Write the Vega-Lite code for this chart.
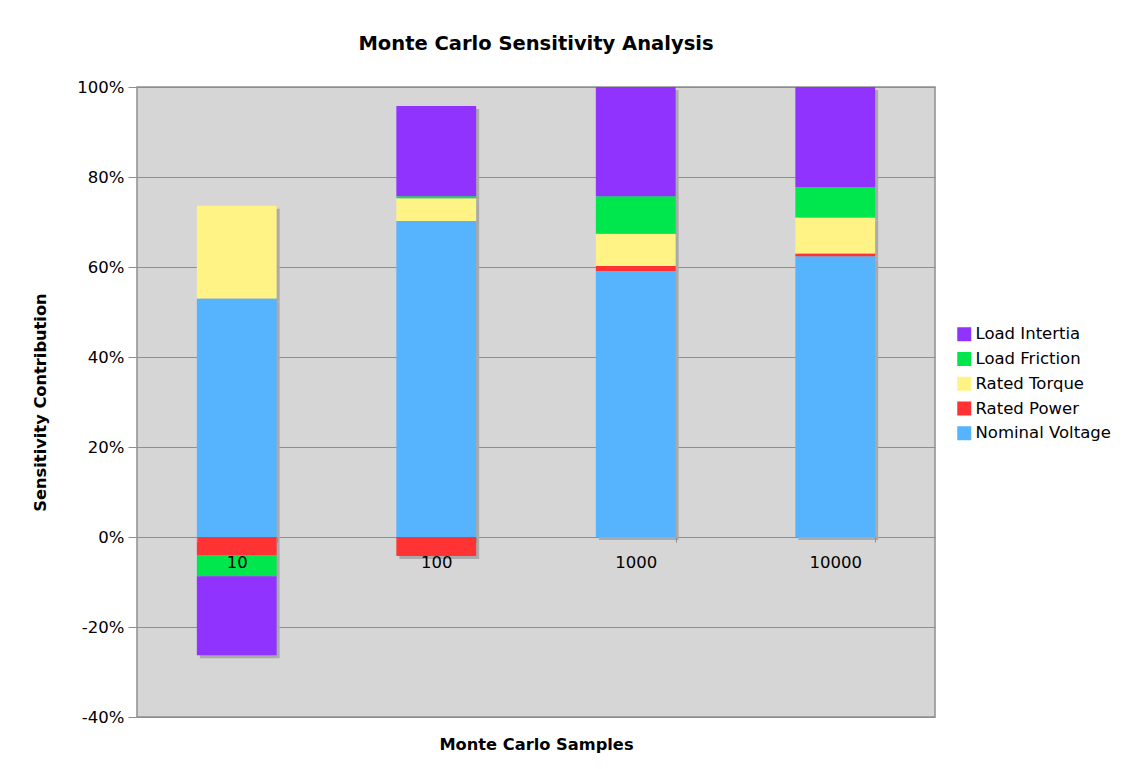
{
  "$schema": "https://vega.github.io/schema/vega-lite/v6.json",
  "width": 798,
  "height": 630,
  "padding": {"left": 32, "top": 33, "right": 5, "bottom": 5},
  "background": "white",
  "title": {"text": "Monte Carlo Sensitivity Analysis", "font": "DejaVu Sans", "fontSize": 19.5, "fontWeight": "bold", "color": "black", "anchor": "middle", "offset": 25},
  "config": {
    "font": "DejaVu Sans",
    "view": {"fill": "#d6d6d6", "stroke": "#8e8e8e", "strokeWidth": 1.5},
    "axis": {"labelFont": "DejaVu Sans", "titleFont": "DejaVu Sans", "labelColor": "black", "titleColor": "black"}
  },
  "data": {
    "values": [
      {"samples": "10", "series": "Nominal Voltage", "value": 0.530, "ord": 1},
      {"samples": "10", "series": "Rated Power", "value": -0.040, "ord": 2},
      {"samples": "10", "series": "Rated Torque", "value": 0.206, "ord": 3},
      {"samples": "10", "series": "Load Friction", "value": -0.047, "ord": 4},
      {"samples": "10", "series": "Load Intertia", "value": -0.176, "ord": 5},
      {"samples": "100", "series": "Nominal Voltage", "value": 0.702, "ord": 1},
      {"samples": "100", "series": "Rated Power", "value": -0.042, "ord": 2},
      {"samples": "100", "series": "Rated Torque", "value": 0.051, "ord": 3},
      {"samples": "100", "series": "Load Friction", "value": 0.004, "ord": 4},
      {"samples": "100", "series": "Load Intertia", "value": 0.201, "ord": 5},
      {"samples": "1000", "series": "Nominal Voltage", "value": 0.591, "ord": 1},
      {"samples": "1000", "series": "Rated Power", "value": 0.011, "ord": 2},
      {"samples": "1000", "series": "Rated Torque", "value": 0.072, "ord": 3},
      {"samples": "1000", "series": "Load Friction", "value": 0.083, "ord": 4},
      {"samples": "1000", "series": "Load Intertia", "value": 0.243, "ord": 5},
      {"samples": "10000", "series": "Nominal Voltage", "value": 0.624, "ord": 1},
      {"samples": "10000", "series": "Rated Power", "value": 0.006, "ord": 2},
      {"samples": "10000", "series": "Rated Torque", "value": 0.080, "ord": 3},
      {"samples": "10000", "series": "Load Friction", "value": 0.068, "ord": 4},
      {"samples": "10000", "series": "Load Intertia", "value": 0.222, "ord": 5}
    ]
  },
  "encoding": {
    "x": {
      "field": "samples", "type": "ordinal", "sort": ["10", "100", "1000", "10000"],
      "scale": {"paddingInner": 0.6, "paddingOuter": 0.3},
      "axis": {
        "title": "Monte Carlo Samples", "titleFontSize": 16.25, "titleFontWeight": "bold",
        "titleBaseline": "middle", "titleY": 207,
        "labelAngle": 0, "labelFontSize": 16.5, "labelPadding": 12,
        "offset": -180, "zindex": 1, "domain": false,
        "tickBand": "extent", "tickSize": 5, "tickColor": "#8e8e8e", "grid": false
      }
    },
    "y": {
      "field": "value", "type": "quantitative", "stack": "zero",
      "scale": {"domain": [-0.4, 1], "nice": false, "zero": false},
      "axis": {
        "title": "Sensitivity Contribution", "titleFontSize": 16.25, "titleFontWeight": "bold", "titlePadding": 28,
        "values": [-0.4, -0.2, 0, 0.2, 0.4, 0.6, 0.8, 1],
        "labelExpr": "(datum.value < 0 ? '-' : '') + format(abs(datum.value), '.0%')",
        "labelFontSize": 16.5, "labelPadding": 4,
        "tickSize": 9, "tickColor": "#8e8e8e", "domain": false,
        "grid": true, "gridColor": "#8e8e8e", "gridWidth": 1
      }
    },
    "order": {"field": "ord", "type": "quantitative"}
  },
  "layer": [
    {
      "mark": {"type": "bar", "color": "#aaaaaa", "xOffset": 3, "yOffset": 3},
      "encoding": {"detail": {"field": "series", "type": "nominal"}}
    },
    {
      "mark": {"type": "bar"},
      "encoding": {
        "color": {
          "field": "series", "type": "nominal",
          "scale": {
            "domain": ["Load Intertia", "Load Friction", "Rated Torque", "Rated Power", "Nominal Voltage"],
            "range": ["#9133ff", "#00e64d", "#fff385", "#ff3333", "#56b4ff"]
          },
          "legend": {
            "title": null, "orient": "none", "legendX": 819, "legendY": 239,
            "symbolType": "square", "symbolSize": 196, "symbolStrokeWidth": 0, "symbolOpacity": 1,
            "labelFontSize": 16.5, "labelColor": "black", "labelFont": "DejaVu Sans",
            "rowPadding": 7.75, "labelOffset": 3
          }
        }
      }
    }
  ]
}
